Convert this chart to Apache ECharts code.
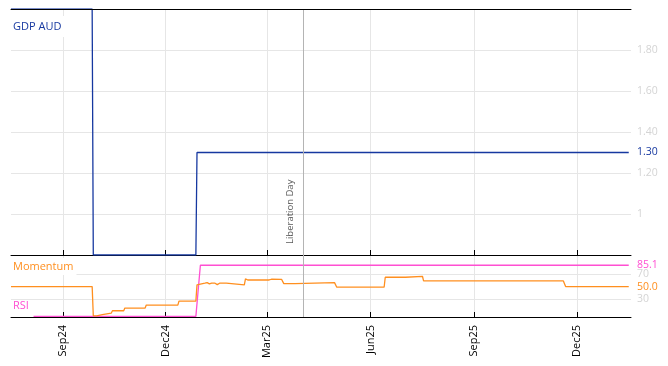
<!DOCTYPE html>
<html>
<head>
<meta charset="utf-8">
<script src="https://cdn.jsdelivr.net/npm/echarts@6/dist/echarts.min.js"></script>
<style>
html,body{margin:0;padding:0;background:#fff;}
#c{width:668px;height:366px;}
</style>
</head>
<body>
<div id="c"></div>
<script>
// ---- data ----
const xRange = ['2024-07-17', '2026-01-18'];
const tickDates = ['2024-09-01','2024-12-01','2025-03-01','2025-06-01','2025-09-01','2025-12-01'];
const tickLabels = ['Sep24','Dec24','Mar25','Jun25','Sep25','Dec25'];

const gdpDates  = ['2024-07-17','2024-09-27','2024-09-28','2024-12-28','2024-12-29','2026-01-16'];
const gdpValues = [2.0, 2.0, 0.8, 0.8, 1.30, 1.30];
const gdpTicks  = [1.0, 1.2, 1.4, 1.6, 1.8];

const momDates = ['2024-07-17','2024-09-27','2024-09-28','2024-10-01','2024-10-02','2024-10-06','2024-10-07','2024-10-14','2024-10-15','2024-10-25','2024-10-26','2024-11-13','2024-11-14','2024-12-12','2024-12-13','2024-12-28','2024-12-29','2024-12-30','2025-01-05','2025-01-07','2025-01-09','2025-01-11','2025-01-14','2025-01-16','2025-01-18','2025-01-24','2025-01-25','2025-02-09','2025-02-10','2025-02-12','2025-03-03','2025-03-05','2025-03-14','2025-03-16','2025-03-26','2025-03-27','2025-04-30','2025-05-02','2025-06-13','2025-06-14','2025-07-02','2025-07-03','2025-07-17','2025-07-18','2025-11-19','2025-11-21','2026-01-16'];
const momValues = [50, 50, 2, 2, 3.8, 3.8, 6.5, 6.5, 10.3, 10.3, 14.7, 14.7, 19.6, 19.6, 26.1, 26.1, 52.8, 55.6, 55.6, 56.5, 54.4, 55.6, 55.6, 53.3, 55.6, 55.6, 53, 53, 62.6, 60.9, 60.9, 62.1, 62, 54.9, 54.9, 56.5, 56.5, 49, 49, 65.4, 65.4, 67, 67, 59.3, 59.3, 50.0, 50.0];

const rsiDates  = ['2024-08-06','2024-12-28','2025-01-01','2026-01-16'];
const rsiValues = [1, 1, 85.1, 85.1];
const oscTicks  = [30, 70];

const eventDate = '2025-04-02';
const eventLabel = 'Liberation Day';

// ---- helpers ----
const ts = s => { const [y,m,d] = s.split('-').map(Number); return Date.UTC(y, m-1, d); };
const zip = (ds, vs) => ds.map((d,i) => [ts(d), vs[i]]);
const tickTs = tickDates.map(ts);

const C_GDP = '#1638a0', C_MOM = '#ff8f1f', C_RSI = '#ff4fd2';
const FONT = 'Open Sans';
const GRID = '#e6e6e6', LBL = '#d4d4d4';

const xBase = (gridIndex) => ({
  type: 'value', gridIndex, min: ts(xRange[0]), max: ts(xRange[1]),
  axisLine: { show: true, onZero: false, lineStyle: { color: '#000', width: 1 } },
  axisTick: { show: true, inside: true, length: 5, customValues: tickTs, lineStyle: { color: '#000' } },
  splitLine: { show: true, lineStyle: { color: GRID, width: 1 } },
  axisLabel: { show: false, customValues: tickTs }
});

const chart = echarts.init(document.getElementById('c'), null, { renderer: 'canvas' });
const lastGdp = gdpValues[gdpValues.length-1];
const lastMom = momValues[momValues.length-1];
const lastRsi = rsiValues[rsiValues.length-1];

chart.setOption({
  animation: false,
  backgroundColor: '#fff',
  textStyle: { fontFamily: FONT },
  title: [
    { text: 'GDP AUD', left: 10, top: 16, padding: [5,3,5,3], backgroundColor: '#fff',
      textStyle: { color: C_GDP, fontSize: 11, fontWeight: 'normal', fontFamily: FONT } },
    { text: 'Momentum', left: 10, top: 258, padding: [3,3,3,3], backgroundColor: '#fff',
      textStyle: { color: C_MOM, fontSize: 11, fontWeight: 'normal', fontFamily: FONT } },
    { text: 'RSI', left: 10, top: 297, padding: [3,3,3,3],
      textStyle: { color: C_RSI, fontSize: 11, fontWeight: 'normal', fontFamily: FONT } }
  ],
  grid: [
    { left: 11, right: 37, top: 9, height: 246 },
    { left: 11, right: 37, top: 255, height: 62 }
  ],
  xAxis: [
    xBase(0),
    Object.assign(xBase(1), {
      axisLabel: { show: true, customValues: tickTs, rotate: 90, margin: 8, color: '#000', fontSize: 11, fontFamily: FONT,
        formatter: v => { const i = tickTs.indexOf(v); return i >= 0 ? tickLabels[i] : ''; } }
    }),
    { type: 'value', gridIndex: 0, position: 'top', min: ts(xRange[0]), max: ts(xRange[1]), z: 10,
      axisLine: { show: true, onZero: false, lineStyle: { color: '#000', width: 1 } },
      axisTick: { show: false }, axisLabel: { show: false }, splitLine: { show: false } }
  ],
  yAxis: [
    { type: 'value', gridIndex: 0, position: 'right', min: 0.8, max: 2.0,
      axisLine: { show: false }, axisTick: { show: false, customValues: gdpTicks },
      splitLine: { show: true, lineStyle: { color: GRID } },
      axisLabel: { customValues: gdpTicks, color: LBL, fontSize: 10.5, margin: 6, fontFamily: FONT,
        formatter: v => (Math.abs(v - 1) < 1e-9 ? '1' : v.toFixed(2)) } },
    { type: 'value', gridIndex: 0, position: 'right', min: 0.8, max: 2.0,
      axisLine: { show: false }, axisTick: { show: false }, splitLine: { show: false },
      axisLabel: { customValues: [lastGdp], color: C_GDP, fontSize: 10.5, margin: 6, fontFamily: FONT,
        formatter: v => v.toFixed(2) } },
    { type: 'value', gridIndex: 1, position: 'right', min: 0, max: 102,
      axisLine: { show: false }, axisTick: { show: false, customValues: oscTicks },
      splitLine: { show: true, lineStyle: { color: GRID } },
      axisLabel: { customValues: oscTicks, color: LBL, fontSize: 10.5, margin: 6, fontFamily: FONT } },
    { type: 'value', gridIndex: 1, position: 'right', min: 0, max: 102,
      axisLine: { show: false }, axisTick: { show: false }, splitLine: { show: false },
      axisLabel: { customValues: [lastMom, lastRsi], fontSize: 10.5, margin: 6, fontFamily: FONT,
        color: v => (Math.abs(v - lastRsi) < 1e-6 ? C_RSI : C_MOM),
        formatter: v => v.toFixed(1) } }
  ],
  series: [
    { name: 'GDP AUD', type: 'line', xAxisIndex: 0, yAxisIndex: 0, data: zip(gdpDates, gdpValues),
      showSymbol: false, lineStyle: { color: C_GDP, width: 1.3 }, itemStyle: { color: C_GDP },
      markLine: { silent: true, symbol: 'none',
        lineStyle: { color: '#b4b4b4', type: 'solid', width: 1 },
        label: { show: true, formatter: eventLabel, position: 'insideStartTop', color: '#5a5a5a',
          fontSize: 9.5, fontFamily: FONT, distance: [11, 8] },
        data: [{ xAxis: ts(eventDate) }] } },
    { name: 'Momentum', type: 'line', xAxisIndex: 1, yAxisIndex: 2, data: zip(momDates, momValues),
      showSymbol: false, lineStyle: { color: C_MOM, width: 1.3 }, itemStyle: { color: C_MOM },
      z: 3 },
    { name: 'RSI', type: 'line', xAxisIndex: 1, yAxisIndex: 2, data: zip(rsiDates, rsiValues),
      showSymbol: false, lineStyle: { color: C_RSI, width: 1.3 }, itemStyle: { color: C_RSI },
      z: 2,
      markLine: { silent: true, symbol: 'none', label: { show: false },
        lineStyle: { color: '#b4b4b4', type: 'solid', width: 1 },
        data: [{ xAxis: ts(eventDate) }] } }
  ]
});
</script>
</body>
</html>
